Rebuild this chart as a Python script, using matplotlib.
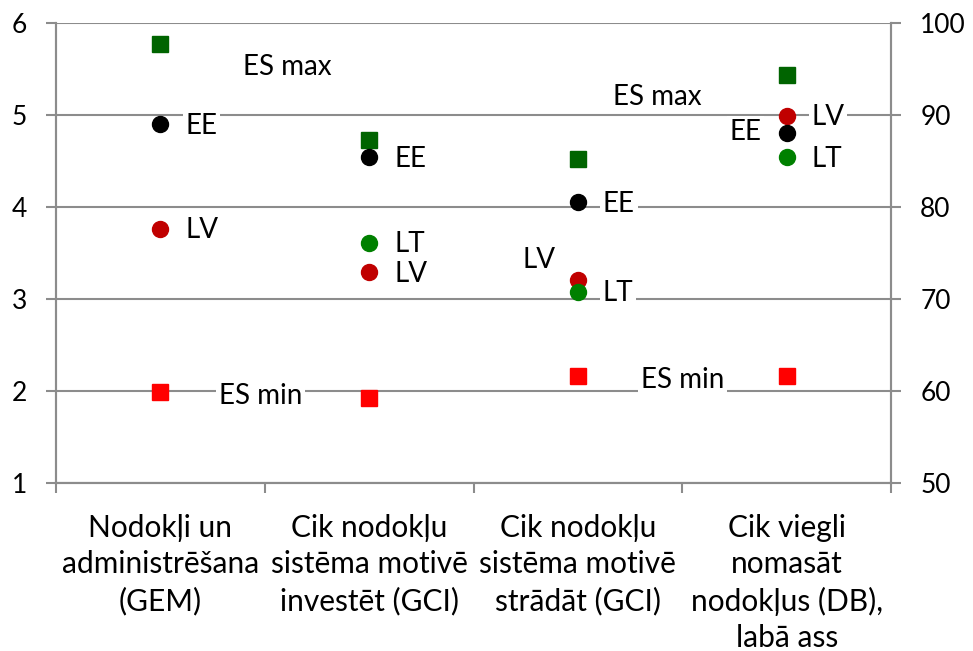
import numpy as np
import matplotlib
matplotlib.use('Agg')
import matplotlib.pyplot as plt

plt.rcParams['font.family'] = ['Lato', 'DejaVu Sans']

categories = ['Nodokļi un\nadministrēšana\n(GEM)',
              'Cik nodokļu\nsistēma motivē\ninvestēt (GCI)',
              'Cik nodokļu\nsistēma motivē\nstrādāt (GCI)',
              'Cik viegli\nnomasāt\nnodokļus (DB),\nlabā ass']

# first three categories on the left axis (1-6), last on the right axis (50-100)
es_max = [5.77, 4.73, 4.52]
ee     = [4.90, 4.54, 4.05]
lv     = [3.76, 3.29, 3.21]
lt     = [np.nan, 3.61, 3.08]
es_min = [1.99, 1.92, 2.16]

db_es_max = 94.4
db_ee     = 88.0
db_lv     = 89.9
db_lt     = 85.4
db_es_min = 61.6

c_esmax = '#006400'
c_ee = '#000000'
c_lv = '#C00000'
c_lt = '#008000'
c_esmin = '#FF0000'
grid_c = '#8c8c8c'
fs = 20

fig = plt.figure(figsize=(9.73, 6.51), dpi=100)
ax = fig.add_axes([56/973, 1-483/651, (891-56)/973, (483-23)/651])
ax2 = ax.twinx()

x = np.arange(3)
ms = 11.5
ax.plot(x, es_max, 's', color=c_esmax, ms=ms, zorder=5)
ax.plot(x, ee, 'o', color=c_ee, ms=ms, zorder=5)
ax.plot(x, lv, 'o', color=c_lv, ms=ms, zorder=5)
ax.plot(x, lt, 'o', color=c_lt, ms=ms, zorder=5)
ax.plot(x, es_min, 's', color=c_esmin, ms=ms, zorder=5)

ax2.plot([3], [db_es_max], 's', color=c_esmax, ms=ms, zorder=5)
ax2.plot([3], [db_lv], 'o', color=c_lv, ms=ms, zorder=5)
ax2.plot([3], [db_ee], 'o', color=c_ee, ms=ms, zorder=5)
ax2.plot([3], [db_lt], 'o', color=c_lt, ms=ms, zorder=5)
ax2.plot([3], [db_es_min], 's', color=c_esmin, ms=ms, zorder=5)

ax.set_xlim(-0.5, 3.5)
ax.set_ylim(1, 6)
ax2.set_ylim(50, 100)
ax.set_yticks(np.arange(1, 7))
ax2.set_yticks(np.arange(50, 101, 10))
ax.set_xticks(np.arange(4))
ax.set_xticklabels(categories, fontsize=21.5, linespacing=1.36)
ax.set_xticks(np.arange(-0.5, 3.6, 1), minor=True)
ax.tick_params(axis='x', which='major', length=0, pad=22)
ax.tick_params(axis='x', which='minor', length=7, width=1.5, color=grid_c)
ax.tick_params(axis='y', length=7, width=1.5, color=grid_c, labelsize=19, pad=14)
ax2.tick_params(axis='y', length=7, width=1.5, color=grid_c, labelsize=19, pad=14)

ax.grid(axis='y', color=grid_c, lw=1.5, zorder=0)
ax.set_axisbelow(True)
for a in (ax, ax2):
    a.spines['top'].set_visible(False)
    for s in ('left', 'right', 'bottom'):
        a.spines[s].set_color(grid_c)
        a.spines[s].set_linewidth(1.5)

box = dict(facecolor='white', edgecolor='none', pad=2)

def lab(a, xv, yv, txt, dx=18, ha='left', dy=0):
    a.annotate(txt, (xv, yv), xytext=(dx, dy), textcoords='offset points',
               ha=ha, va='center', fontsize=fs, bbox=box, zorder=4)

for i in range(3):
    lab(ax, i, ee[i], 'EE', dy=-1)
for i in (0, 1):
    lab(ax, i, lv[i], 'LV', dy=-1)
lab(ax, 1, lt[1], 'LT', dy=-1)
lab(ax, 2, lv[2], 'LV', dx=-16, ha='right', dy=14)
lab(ax, 2, lt[2], 'LT', dy=-1)
lab(ax2, 3, db_lv, 'LV', dy=-1)
lab(ax2, 3, db_lt, 'LT', dy=-1)
lab(ax2, 3, db_ee, 'EE', dx=-18, ha='right', dy=1)

ax.text(0.61, 5.52, 'ES max', ha='center', va='center', fontsize=fs, bbox=box, zorder=4)
ax.text(2.38, 5.20, 'ES max', ha='center', va='center', fontsize=fs, bbox=box, zorder=4)
ax.text(0.48, 1.95, 'ES min', ha='center', va='center', fontsize=fs, bbox=box, zorder=4)
ax.text(2.50, 2.12, 'ES min', ha='center', va='center', fontsize=fs, bbox=box, zorder=4)

fig.savefig('out.png', dpi=100)
